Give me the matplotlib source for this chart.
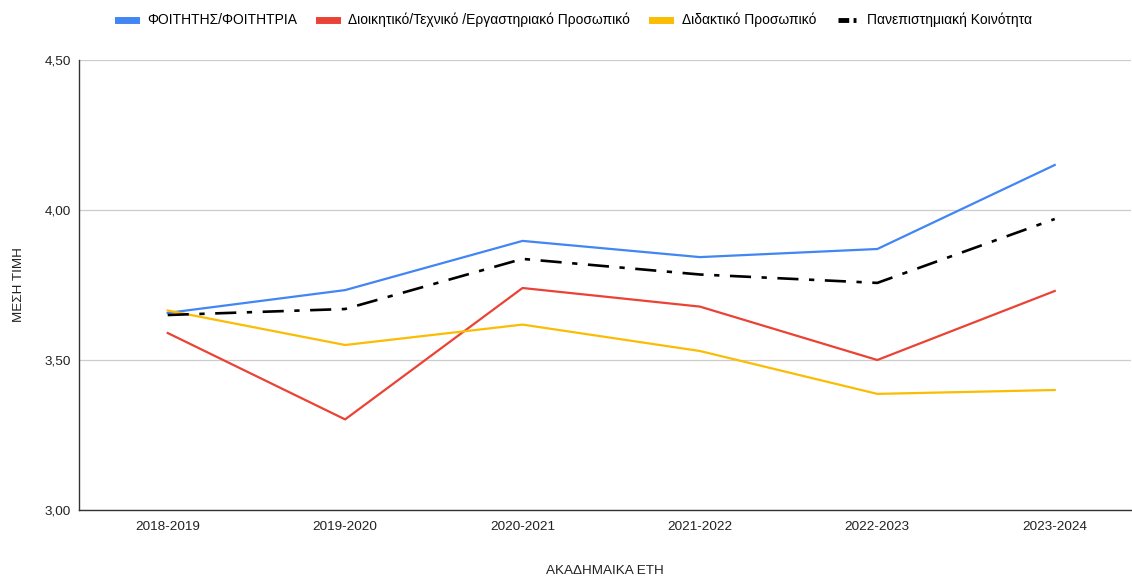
import matplotlib
matplotlib.use("Agg")
import matplotlib.pyplot as plt
from matplotlib.lines import Line2D

plt.rcParams['font.family'] = ['Liberation Sans', 'DejaVu Sans']

# academic years and mean scores per group
years = ['2018-2019', '2019-2020', '2020-2021', '2021-2022', '2022-2023', '2023-2024']
students = [3.657, 3.733, 3.897, 3.843, 3.870, 4.150]
admin_staff = [3.590, 3.302, 3.740, 3.678, 3.500, 3.730]
teaching_staff = [3.665, 3.550, 3.618, 3.530, 3.387, 3.400]
community = [3.650, 3.670, 3.837, 3.785, 3.757, 3.970]

labels = ['ΦΟΙΤΗΤΗΣ/ΦΟΙΤΗΤΡΙΑ', 'Διοικητικό/Τεχνικό /Εργαστηριακό Προσωπικό',
          'Διδακτικό Προσωπικό', 'Πανεπιστημιακή Κοινότητα']
colors = ['#4285f4', '#ea4335', '#fbbc04', '#000000']

fig = plt.figure(figsize=(11.32, 5.76), dpi=100)
ax = fig.add_axes([79 / 1132, 1 - 510 / 576, (1131 - 79) / 1132, 450 / 576])

x = list(range(len(years)))
ax.plot(x, students, color=colors[0], lw=1.6, zorder=3)
ax.plot(x, admin_staff, color=colors[1], lw=1.6, zorder=3)
ax.plot(x, teaching_staff, color=colors[2], lw=1.6, zorder=3)
ax.plot(x, community, color=colors[3], lw=1.9, dashes=(8, 4, 2, 4), zorder=4)

ax.set_xlim(-0.5, 5.43)
ax.set_ylim(3.0, 4.5)
ax.set_yticks([3.0, 3.5, 4.0, 4.5])
ax.set_yticklabels(['3,00', '3,50', '4,00', '4,50'])
ax.set_xticks(x)
ax.set_xticklabels(years)
ax.tick_params(length=0, labelsize=9.7, colors='#222222', pad=8)
ax.tick_params(axis='y', pad=6)

ax.grid(axis='y', color='#cccccc', lw=0.9)
ax.set_axisbelow(True)
for side in ['top', 'right']:
    ax.spines[side].set_visible(False)
for side in ['left', 'bottom']:
    ax.spines[side].set_color('#333333')
    ax.spines[side].set_linewidth(1.0)

ax.set_xlabel('ΑΚΑΔΗΜΑΙΚΑ ΕΤΗ', fontsize=9.7, color='#222222')
ax.set_ylabel('ΜΕΣΗ ΤΙΜΗ', fontsize=9.7, color='#222222')
ax.xaxis.set_label_coords(0.5, -0.122)
ax.yaxis.set_label_coords(-0.051, 0.5)

handles = [Line2D([], [], color=colors[0], lw=5),
           Line2D([], [], color=colors[1], lw=5),
           Line2D([], [], color=colors[2], lw=5),
           Line2D([], [], color=colors[3], lw=3.5, dashes=(2.2, 0.9, 0.6, 1))]
fig.legend(handles, labels, loc='center', bbox_to_anchor=(0.508, 0.965), ncol=4,
           frameon=False, fontsize=10, handlelength=1.3, handletextpad=0.8,
           columnspacing=1.6)

fig.savefig('out.png', dpi=100)
